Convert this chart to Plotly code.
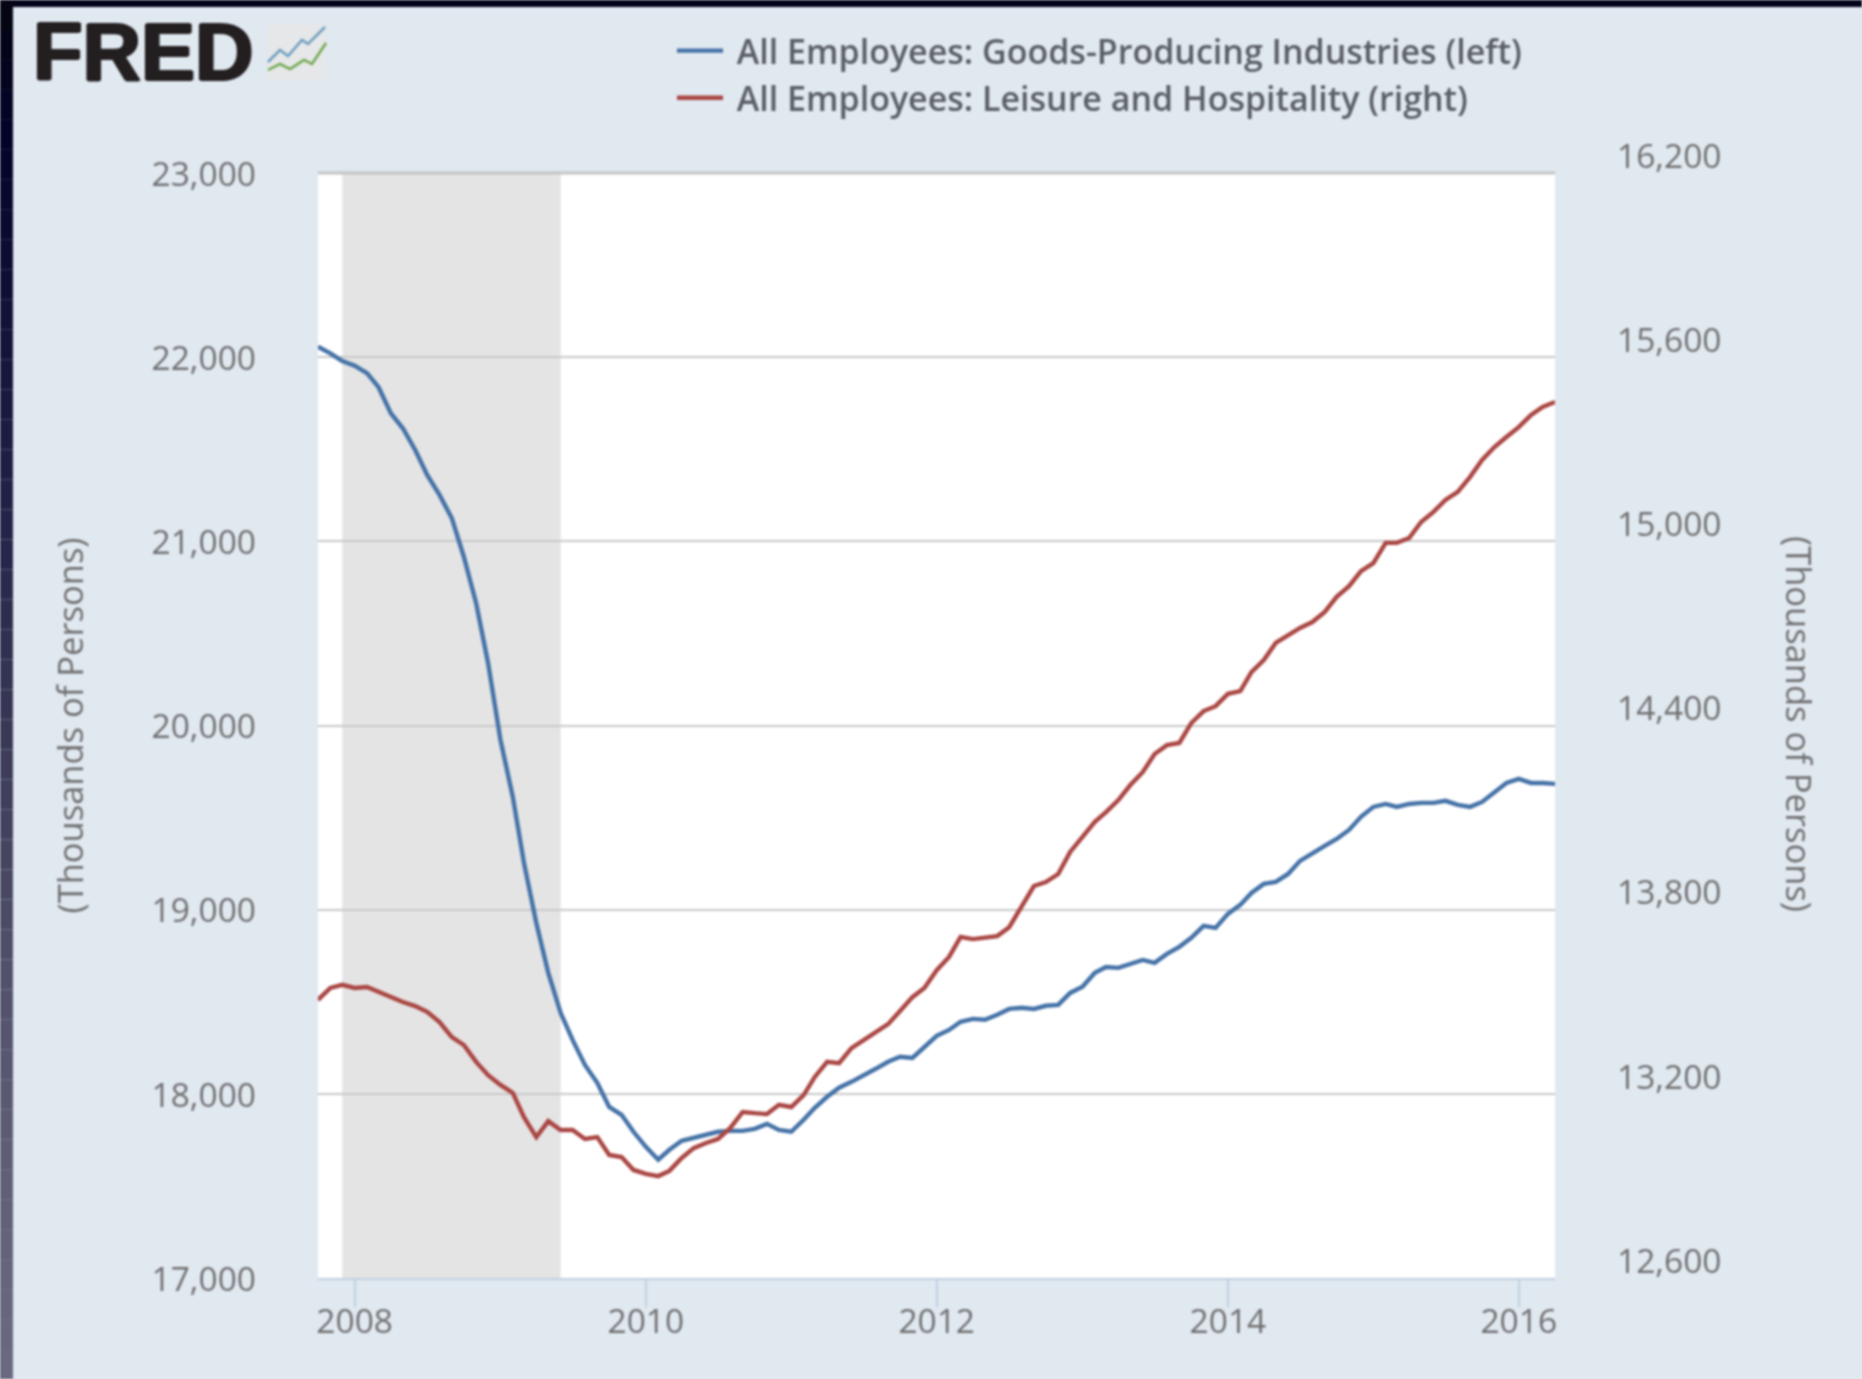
import plotly.graph_objects as go
import pandas as pd

months = pd.date_range("2007-10-01", "2016-04-01", freq="MS")

goods = [22057,22021,21979,21954,21913,21837,21695,21614,21496,21360,21252,21125,20917,20664,20338,
19922,19612,19254,18928,18657,18440,18293,18157,18060,17929,17886,17794,17712,17642,17696,17745,
17761,17783,17794,17799,17799,17810,17837,17804,17794,17859,17924,17984,18033,18065,18103,18136,
18174,18201,18195,18255,18315,18347,18391,18407,18402,18429,18461,18467,18461,18478,18483,18548,
18581,18657,18689,18684,18706,18727,18711,18760,18798,18847,18912,18901,18977,19026,19091,19140,
19151,19194,19265,19308,19346,19384,19433,19504,19558,19574,19558,19574,19580,19580,19591,19569,
19558,19585,19639,19688,19710,19688,19688,19683]

leisure = [13506,13545,13555,13545,13548,13532,13512,13499,13486,13467,13434,13385,13359,13304,13261,
13229,13203,13124,13059,13111,13082,13082,13053,13059,13001,12994,12952,12939,12932,12949,12991,
13023,13040,13053,13089,13141,13137,13134,13164,13157,13196,13255,13304,13300,13349,13375,13401,
13427,13470,13515,13545,13603,13646,13711,13704,13708,13714,13743,13809,13877,13890,13916,13988,
14037,14086,14118,14157,14206,14248,14307,14336,14343,14408,14447,14463,14503,14512,14574,14613,
14669,14695,14718,14737,14770,14819,14854,14903,14929,14995,14995,15011,15063,15096,15135,15161,
15210,15265,15307,15340,15372,15412,15438,15454]

left_ticks = [17000,18000,19000,20000,21000,22000,23000]
right_ticks = [12600,13200,13800,14400,15000,15600,16200]
year_ticks = ["2008-01-01","2010-01-01","2012-01-01","2014-01-01","2016-01-01"]
year_labels = ["2008","2010","2012","2014","2016"]
recession = ("2007-12-01","2009-06-01")

W, H = 1862, 1379
L, R, T, B = 318, 1555, 173, 1278
def px(x): return (x-L)/(R-L)
def py(y): return (B-y)/(B-T)

# decorative dark frame at the left edge (vertical gradient as thin bands)
strip_stops = [(0,(5,5,16)),(0.1,(3,3,42)),(0.25,(20,20,58)),(0.4,(38,38,74)),(0.55,(60,60,88)),
               (0.7,(80,80,106)),(0.85,(95,94,118)),(1,(108,106,130))]
def strip_colour(f):
    for (a,ca),(b,cb) in zip(strip_stops, strip_stops[1:]):
        if f <= b:
            t=(f-a)/(b-a)
            return "rgb(%d,%d,%d)" % tuple(round(p+(q-p)*t) for p,q in zip(ca,cb))
    return "rgb(108,106,130)"

shapes = [
    dict(type="rect", xref="x", yref="paper", x0=recession[0], x1=recession[1], y0=0, y1=1,
         fillcolor="#e4e4e4", line_width=0, layer="below"),
    dict(type="rect", xref="paper", yref="paper", x0=px(0), x1=px(W), y0=py(7), y1=py(0),
         fillcolor="#03031a", line_width=0, layer="below"),
    dict(type="line", xref="paper", yref="paper", x0=0, x1=1, y0=1, y1=1,
         line=dict(color="#c4c4c4", width=3), layer="above"),
]
n = 46
for i in range(n):
    shapes.append(dict(type="rect", xref="paper", yref="paper", x0=px(0), x1=px(13),
                       y0=py(H*(i+1)/n), y1=py(H*i/n), fillcolor=strip_colour((i+.5)/n),
                       line_width=0, layer="below"))

# small FRED icon
def path(pts):
    return "M " + " L ".join(f"{px(a):.5f},{py(b):.5f}" for a, b in pts)
shapes += [
    dict(type="rect", xref="paper", yref="paper", x0=px(267), x1=px(326), y0=py(80), y1=py(24),
         fillcolor="#e6e7e8", line_width=0, layer="below"),
    dict(type="path", xref="paper", yref="paper", line=dict(color="#6f9fc0", width=2.5), layer="below",
         path=path([(268,62),(280,50),(288,56),(302,40),(308,44),(325,27)])),
    dict(type="path", xref="paper", yref="paper", line=dict(color="#6fa84f", width=2.5), layer="below",
         path=path([(268,70),(280,64),(290,69),(304,60),(312,64),(326,43)])),
]

fig = go.Figure()
fig.add_trace(go.Scatter(x=months, y=goods, mode="lines", yaxis="y",
                         name="\u00a0All Employees: Goods-Producing Industries (left)",
                         line=dict(color="#4572a7", width=4.4)))
fig.add_trace(go.Scatter(x=months, y=leisure, mode="lines", yaxis="y2",
                         name="\u00a0All Employees: Leisure and Hospitality (right)",
                         line=dict(color="#aa4643", width=4.4)))

FONT = "Open Sans"
GREY = "#707070"
INK = "#231f20"
tick_font = dict(family=FONT, size=33.5, color=GREY)
title_font = dict(family=FONT, size=34.5, color=GREY)
fig.update_layout(
    width=W, height=H, autosize=False,
    margin=dict(l=L, r=W-R, t=T, b=H-B, pad=0),
    paper_bgcolor="#e0e8f0", plot_bgcolor="#ffffff",
    shapes=shapes,
    showlegend=True,
    legend=dict(x=px(672), y=py(22), xanchor="left", yanchor="top", bgcolor="rgba(0,0,0,0)",
                font=dict(family=FONT, size=34, color="#5a5f65", weight=600), itemwidth=46,
                traceorder="normal"),
    xaxis=dict(type="date", range=[months[0], months[-1]], tickmode="array",
               tickvals=year_ticks, ticktext=year_labels, showgrid=False,
               ticks="outside", ticklen=27, tickwidth=1.5, tickcolor="#c0d0e0",
               showline=True, linecolor="#c0d0e0", linewidth=2, tickfont=tick_font, zeroline=False,
               ticklabelstandoff=-14),
    yaxis=dict(range=[17000,23000], tickmode="array", tickvals=left_ticks, tickformat=",",
               showgrid=True, gridcolor="#c8c8c8", gridwidth=2, zeroline=False, showline=False,
               ticks="", ticklabelstandoff=61, ticklabelshift=1, tickfont=tick_font,
               title=dict(text="(Thousands of Persons)", font=title_font, standoff=57)),
    yaxis2=dict(range=[12600,16200], tickmode="array", tickvals=right_ticks, tickformat=",",
                overlaying="y", side="right", showgrid=False, zeroline=False, showline=False,
                ticks="", ticklabelstandoff=61, ticklabelshift=-17, tickfont=tick_font),
    annotations=[
        dict(text="<b>FRED</b>", xref="paper", yref="paper", x=px(31), y=py(52),
             xanchor="left", yanchor="middle", showarrow=False,
             font=dict(family="Liberation Sans", size=81, color=INK,
                       shadow=f"1.5px 0 0 {INK},-1.5px 0 0 {INK},0 1px 0 {INK},0 -1px 0 {INK}")),
        dict(text="(Thousands of Persons)", xref="paper", yref="paper", x=px(1800), y=py(724),
             xanchor="center", yanchor="middle", showarrow=False, textangle=90, font=title_font),
    ],
)

fig.write_html("out.html", config=dict(displayModeBar=False), post_script=
    "document.documentElement.style.background='#e0e8f0';"
    "document.body.style.margin='0';document.body.style.overflow='hidden';"
    "document.querySelector('.plotly-graph-div').style.filter='blur(1.1px)';")
